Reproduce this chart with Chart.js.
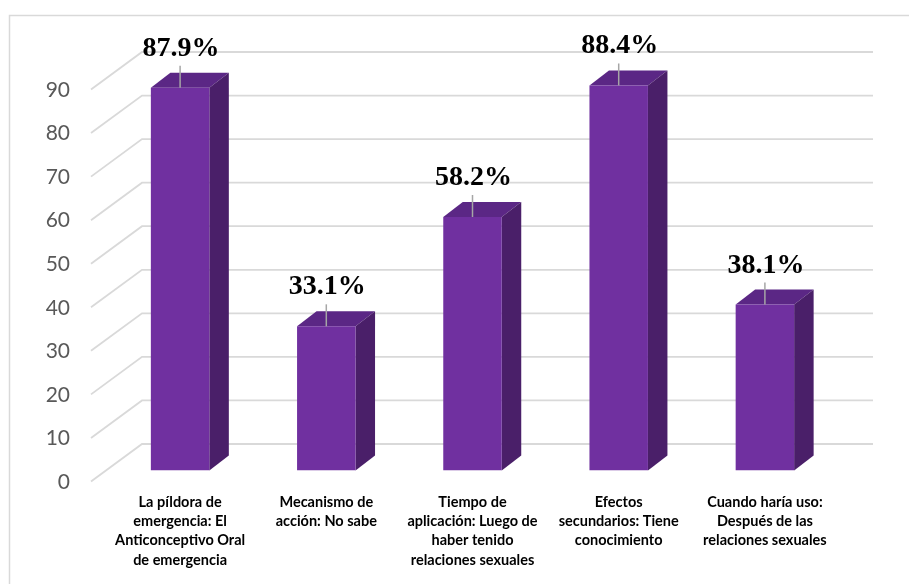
<!DOCTYPE html>
<html>
<head>
<meta charset="utf-8">
<script src="https://cdn.jsdelivr.net/npm/chart.js@4.4.1/dist/chart.umd.min.js"></script>
<style>
  body { margin: 0; background: #fff; }
</style>
</head>
<body>
<canvas id="myChart" width="909" height="584"></canvas>
<script>
const categories = [
  ['La píldora de', 'emergencia: El', 'Anticonceptivo Oral', 'de emergencia'],
  ['Mecanismo de', 'acción: No sabe'],
  ['Tiempo de', 'aplicación: Luego de', 'haber tenido', 'relaciones sexuales'],
  ['Efectos', 'secundarios: Tiene', 'conocimiento'],
  ['Cuando haría uso:', 'Después de las', 'relaciones sexuales']
];
const percentages = [87.9, 33.1, 58.2, 88.4, 38.1];
const yTicks = [0, 10, 20, 30, 40, 50, 60, 70, 80, 90];

// fake 3d: bar depth, back wall and front edge of the floor, relative to the front plane
const barDepth = { dx: 19.5, dy: -15 };
const backWall = { dx: 35, dy: -26.5 };
const floorEdge = { dx: -16, dy: 11 };

const frontColor = '#7030a0';
const topColor = '#5b2785';
const sideColor = '#4a1f69';
const gridColor = '#d9d9d9';

function poly(ctx, pts, color) {
    ctx.fillStyle = color;
    ctx.beginPath();
    ctx.moveTo(pts[0][0], pts[0][1]);
    for (let i = 1; i < pts.length; i++) ctx.lineTo(pts[i][0], pts[i][1]);
    ctx.closePath();
    ctx.fill();
}

const bars3d = {
    id: 'bars3d',
    beforeDraw(chart) {
        const ctx = chart.ctx;
        ctx.save();
        ctx.fillStyle = '#fff';
        ctx.fillRect(0, 0, chart.width, chart.height);
        ctx.strokeStyle = gridColor;
        ctx.lineWidth = 1.5;
        ctx.strokeRect(9.5, 15.5, chart.width + 20, chart.height + 20);
        ctx.restore();
    },
    beforeDatasetsDraw(chart) {
        const { ctx, chartArea, scales } = chart;
        const y = scales.y;
        ctx.save();
        ctx.strokeStyle = gridColor;
        ctx.lineWidth = 1.8;
        y.ticks.forEach(t => {
            const py = y.getPixelForValue(t.value);
            ctx.beginPath();
            ctx.moveTo(chartArea.left + floorEdge.dx, py + floorEdge.dy);
            ctx.lineTo(chartArea.left + backWall.dx, py + backWall.dy);
            ctx.lineTo(chartArea.right + backWall.dx, py + backWall.dy);
            ctx.stroke();
        });
        // top and right side of every bar
        chart.getDatasetMeta(0).data.forEach(bar => {
            const p = bar.getProps(['x', 'y', 'base', 'width'], true);
            const l = p.x - p.width / 2, r = p.x + p.width / 2;
            poly(ctx, [[l, p.y], [l + barDepth.dx, p.y + barDepth.dy],
                       [r + barDepth.dx, p.y + barDepth.dy], [r, p.y]], topColor);
            poly(ctx, [[r, p.y], [r + barDepth.dx, p.y + barDepth.dy],
                       [r + barDepth.dx, p.base + barDepth.dy], [r, p.base]], sideColor);
        });
        ctx.restore();
    },
    afterDatasetsDraw(chart) {
        const ctx = chart.ctx;
        ctx.save();
        chart.getDatasetMeta(0).data.forEach((bar, i) => {
            const p = bar.getProps(['x', 'y'], true);
            ctx.strokeStyle = '#a6a6a6';
            ctx.lineWidth = 1.5;
            ctx.beginPath();
            ctx.moveTo(p.x, p.y - 22);
            ctx.lineTo(p.x, p.y);
            ctx.stroke();
            ctx.fillStyle = '#000';
            ctx.font = 'bold 28px "Liberation Serif"';
            ctx.textAlign = 'center';
            ctx.textBaseline = 'alphabetic';
            ctx.fillText(percentages[i].toFixed(1) + '%', p.x + 1, p.y - 32);
        });
        ctx.restore();
    }
};

const ctx = document.getElementById('myChart').getContext('2d');
const myChart = new Chart(ctx, {
    type: 'bar',
    data: {
        labels: categories,
        datasets: [{
            data: percentages,
            backgroundColor: frontColor,
            borderWidth: 0,
            categoryPercentage: 1,
            barPercentage: 0.4
        }]
    },
    options: {
        responsive: false,
        animation: false,
        layout: { padding: { left: 0, right: 71, top: 78.5, bottom: 0 } },
        plugins: {
            legend: { display: false },
            tooltip: { enabled: false }
        },
        scales: {
            x: {
                grid: { display: false, drawTicks: false },
                border: { display: false },
                ticks: {
                    color: '#000',
                    font: { family: 'Lato', size: 14.5, weight: 'bold', lineHeight: 1.33 },
                    padding: 22,
                    maxRotation: 0,
                    autoSkip: false
                },
                afterFit: s => { s.height = 113.5; }
            },
            y: {
                min: yTicks[0],
                max: yTicks[yTicks.length - 1],
                grid: { display: false, drawTicks: false },
                border: { display: false },
                ticks: {
                    stepSize: yTicks[1] - yTicks[0],
                    color: '#595959',
                    font: { family: 'Lato', size: 21 },
                    padding: 37,
                    labelOffset: 11.5
                },
                afterFit: s => { s.width = 107; }
            }
        }
    },
    plugins: [bars3d]
});
</script>
</body>
</html>
